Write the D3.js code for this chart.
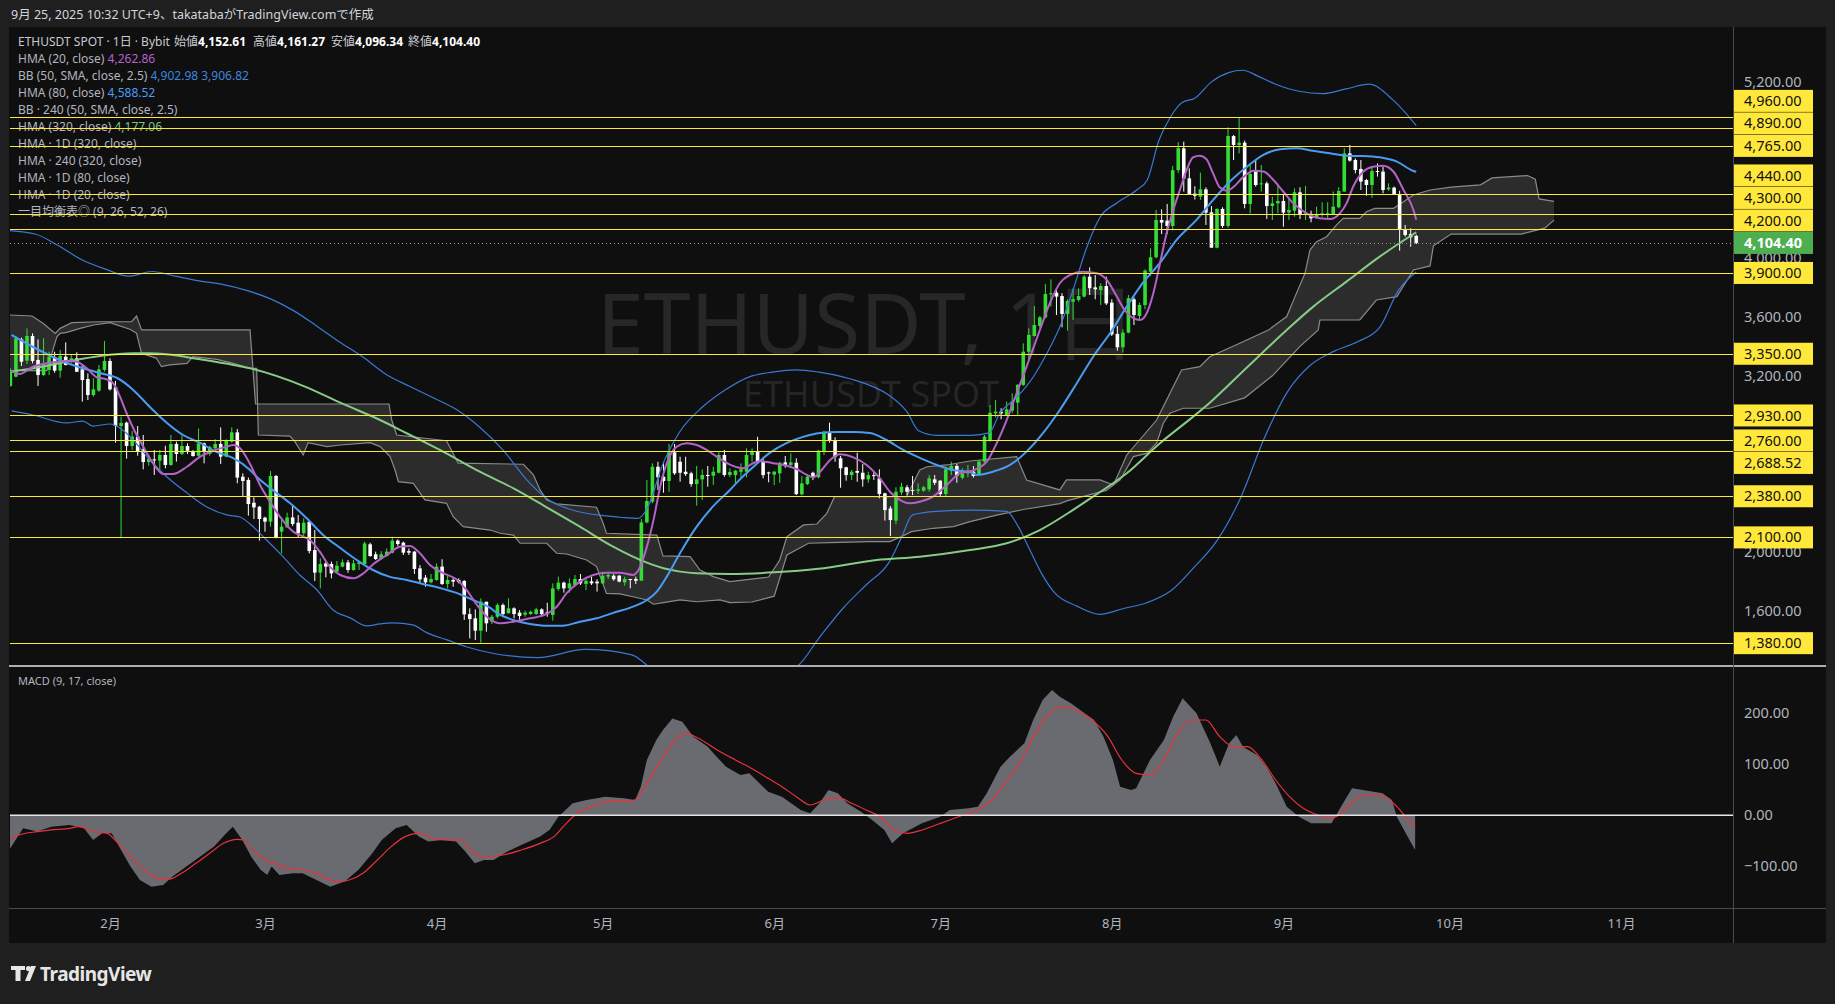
<!DOCTYPE html>
<html><head><meta charset="utf-8">
<script src="https://cdn.jsdelivr.net/npm/d3@7"></script>
<style>
body{margin:0;background:#1f1f1f;}
svg{display:block}
text{font-family:"Noto Sans","Noto Sans CJK JP",sans-serif;}
</style></head>
<body><svg id="c" width="1835" height="1004"></svg>
<script>
// ---------------- DATA ----------------
const startDay = -18; // first candle: 2025-01-14 (day index relative to 2025-02-01)
const opens = [3131,3194,3448,3303,3471,3308,3205,3240,3326,3235,3330,3296,3319,3244,3178,3069,3099,3240,3301,3122,2858,2881,2722,2786,2700,2613,2631,2622,2661,2593,2736,2668,2722,2684,2656,2740,2668,2706,2736,2650,2752,2815,2513,2491,2336,2309,2234,2207,2518,2139,2168,2236,2200,2128,2207,2014,1860,1923,1919,1867,1901,1930,1878,1919,1919,2053,1985,1953,1973,1996,2078,2064,2007,2003,1889,1826,1794,1810,1901,1783,1810,1810,1803,1578,1549,1465,1662,1526,1560,1640,1583,1617,1588,1574,1578,1578,1610,1590,1572,1749,1792,1753,1776,1817,1783,1801,1799,1787,1833,1839,1839,1794,1817,1817,1805,2202,2343,2581,2513,2484,2679,2615,2547,2536,2463,2495,2525,2520,2540,2661,2525,2524,2547,2547,2661,2683,2620,2542,2527,2536,2611,2593,2608,2393,2463,2540,2509,2683,2815,2763,2638,2577,2524,2552,2540,2495,2524,2502,2400,2297,2214,2406,2441,2423,2418,2418,2427,2495,2486,2395,2554,2586,2506,2536,2547,2525,2616,2763,2944,2956,2933,2963,3017,3138,3364,3471,3539,3598,3755,3766,3743,3621,3705,3716,3739,3875,3802,3784,3811,3698,3485,3394,3494,3721,3607,3682,3909,4007,4261,4256,4220,4600,4748,4544,4440,4419,4469,4313,4072,4336,4220,4832,4771,4787,4370,4601,4506,4510,4356,4374,4390,4311,4324,4449,4302,4302,4279,4299,4295,4295,4347,4454,4714,4669,4608,4533,4499,4594,4590,4469,4481,4438,4197,4165,4152.61];
const highs = [3251,3471,3460,3523,3489,3448,3455,3364,3364,3376,3428,3342,3360,3274,3217,3183,3274,3437,3319,3165,2922,2888,2824,2858,2797,2661,2695,2695,2724,2797,2752,2793,2740,2695,2842,2745,2724,2768,2849,2768,2849,2838,2536,2507,2373,2314,2241,2552,2525,2218,2268,2320,2252,2230,2207,2150,1957,1939,1935,1939,1951,1946,1946,1935,2071,2064,2003,2007,2025,2105,2087,2071,2025,2007,1912,1844,1851,1923,1951,1844,1828,1821,1810,1617,1610,1685,1662,1572,1651,1651,1685,1624,1606,1601,1601,1621,1617,1655,1787,1833,1799,1821,1844,1851,1828,1833,1815,1867,1867,1849,1844,1833,1817,1833,2225,2491,2604,2615,2615,2736,2736,2649,2649,2547,2586,2563,2586,2581,2679,2695,2570,2559,2604,2706,2706,2785,2645,2547,2552,2615,2654,2672,2638,2518,2524,2547,2695,2826,2881,2781,2654,2581,2559,2676,2599,2547,2547,2563,2404,2313,2441,2472,2456,2518,2468,2450,2524,2524,2490,2581,2615,2599,2570,2593,2586,2627,2797,3001,3035,2979,3024,3081,3144,3421,3523,3675,3607,3825,3857,3795,3762,3721,3795,3795,3886,3938,3886,3830,3875,3721,3539,3517,3750,3734,3698,3925,4068,4329,4333,4370,4630,4790,4794,4612,4490,4583,4483,4356,4340,4347,4891,4839,4960,4801,4635,4665,4635,4522,4419,4497,4431,4408,4476,4483,4492,4324,4351,4381,4381,4454,4483,4748,4771,4680,4669,4540,4624,4646,4624,4510,4488,4460,4227,4204,4161.27];
const lows = [3126,3190,3267,3280,3285,3131,3200,3205,3221,3187,3270,3285,3225,3024,3035,3058,3092,3228,3099,2745,2094,2636,2695,2656,2563,2588,2525,2559,2570,2588,2616,2661,2668,2650,2650,2604,2656,2700,2600,2645,2745,2468,2377,2248,2225,2078,2139,2173,2093,1991,2168,2177,2100,2109,1991,1803,1753,1828,1821,1862,1896,1860,1873,1878,1912,1969,1946,1951,1969,1991,2041,1980,1980,1851,1787,1764,1787,1805,1776,1753,1764,1787,1538,1413,1401,1383,1458,1510,1549,1560,1583,1549,1538,1560,1572,1572,1560,1560,1533,1737,1724,1724,1764,1776,1742,1776,1731,1783,1815,1805,1794,1771,1753,1783,1805,2196,2332,2423,2404,2411,2525,2479,2518,2445,2316,2354,2445,2457,2536,2513,2510,2468,2509,2509,2615,2604,2502,2475,2456,2472,2574,2580,2388,2386,2456,2490,2502,2661,2745,2615,2438,2486,2490,2479,2445,2472,2490,2366,2214,2109,2189,2388,2388,2388,2395,2411,2411,2456,2382,2377,2524,2472,2495,2509,2507,2518,2609,2752,2917,2904,2927,2945,2933,3131,3308,3467,3523,3591,3671,3614,3530,3507,3580,3705,3734,3750,3721,3682,3682,3471,3371,3358,3489,3546,3580,3653,3879,4000,4165,4165,4190,4580,4454,4431,4400,4397,4227,4072,4068,4208,4208,4669,4714,4340,4306,4488,4454,4267,4261,4306,4215,4261,4283,4267,4261,4245,4272,4283,4272,4295,4340,4454,4658,4578,4465,4426,4413,4556,4442,4460,4435,4052,4147,4079,4096.34];
const closes = [3228,3455,3296,3471,3301,3205,3274,3330,3235,3335,3274,3319,3228,3171,3069,3108,3244,3301,3108,2858,2879,2722,2786,2684,2613,2636,2625,2661,2593,2736,2668,2722,2690,2654,2740,2684,2715,2736,2650,2763,2815,2507,2484,2327,2304,2225,2207,2518,2100,2173,2236,2191,2128,2200,2007,1860,1919,1901,1855,1907,1930,1878,1923,1930,2059,1973,1953,1985,2003,2078,2055,1996,1996,1885,1814,1794,1817,1901,1783,1810,1799,1796,1576,1544,1465,1662,1515,1560,1640,1578,1617,1578,1565,1588,1594,1610,1578,1578,1753,1792,1753,1787,1817,1787,1805,1787,1787,1839,1844,1815,1799,1817,1810,1805,2202,2348,2581,2509,2484,2679,2536,2540,2531,2463,2495,2525,2518,2547,2661,2525,2545,2554,2563,2661,2683,2615,2524,2536,2547,2608,2593,2611,2395,2468,2513,2509,2690,2819,2763,2649,2570,2524,2547,2540,2495,2524,2518,2395,2286,2218,2411,2445,2411,2418,2427,2441,2502,2472,2395,2563,2586,2518,2536,2554,2518,2616,2786,2949,2956,2944,2972,3024,3138,3364,3478,3546,3598,3757,3762,3739,3621,3709,3721,3743,3875,3796,3789,3811,3693,3482,3394,3494,3728,3614,3682,3916,4007,4261,4243,4220,4600,4750,4544,4438,4425,4469,4311,4072,4336,4220,4832,4771,4787,4370,4574,4499,4510,4356,4374,4390,4311,4329,4449,4302,4306,4272,4302,4306,4306,4351,4458,4714,4665,4601,4522,4499,4594,4590,4465,4481,4435,4197,4159,4143,4104.40];

// indicator lines: [day (0 = 2025-02-01), price]
const hma20 = [[-17.8,3235],[-16.3,3212],[-13.9,3262],[-10.8,3289],[-7.8,3301],[-6,3296],[-4.2,3251],[-2.4,3190],[-0.6,3176],[0.6,3149],[1.8,3058],[3,2945],[4.2,2843],[6,2718],[7.8,2604],[9.6,2532],[11.4,2532],[13.9,2581],[16.3,2650],[18.7,2690],[21.1,2718],[22.3,2729],[23.5,2707],[25.3,2600],[27.1,2457],[28.9,2343],[30.7,2241],[33.1,2139],[34.9,2105],[36.1,2082],[37.9,2003],[39.7,1901],[41.6,1844],[44,1822],[45.8,1856],[47.6,1919],[50,1980],[52.4,2037],[54.2,2042],[56,1992],[57.8,1912],[60.2,1856],[62.6,1815],[64.4,1742],[66.3,1640],[68.4,1549],[70.5,1515],[72.9,1526],[75.9,1549],[78.9,1579],[80.7,1628],[82.5,1720],[84.9,1799],[87.3,1844],[89.7,1860],[92.1,1860],[94.5,1844],[95.8,1901],[97,2037],[98.2,2219],[99.4,2445],[100.6,2605],[102.4,2718],[104.2,2741],[106,2729],[107.8,2695],[109.6,2650],[112.3,2590],[114.4,2571],[116.2,2605],[117.4,2620],[119.8,2605],[122.3,2588],[124.1,2564],[125.9,2525],[127.1,2509],[128.3,2547],[130.1,2627],[131.9,2666],[134.3,2645],[136.7,2593],[139.1,2502],[140.9,2411],[142.7,2355],[144.5,2332],[146.3,2343],[148.7,2377],[151.2,2457],[153.6,2537],[155.7,2553],[158.4,2615],[160.2,2741],[162,2899],[163.8,3081],[165.6,3262],[168,3512],[169.8,3694],[171.6,3830],[173.4,3886],[175.8,3909],[178.3,3898],[180.1,3852],[181.9,3739],[183.1,3660],[184.9,3592],[186.1,3580],[187.3,3626],[188.5,3762],[189.7,3966],[190.9,4170],[192.1,4329],[193.3,4465],[194.5,4600],[195.7,4688],[196.9,4698],[198.1,4674],[199.3,4578],[200.5,4483],[201.8,4460],[202.9,4483],[204.7,4551],[206.6,4596],[208.4,4590],[210.2,4533],[212,4453],[213.8,4374],[216.2,4306],[218.6,4272],[220.4,4267],[222.2,4306],[223.4,4374],[224.6,4487],[226.4,4589],[228.2,4623],[230,4630],[231.9,4589],[233.7,4465],[235.5,4329],[236,4263]];
const hma80 = [[-17.8,3478],[-13.9,3396],[-7.8,3287],[-1.8,3219],[1.3,3185],[4.2,3104],[7.2,2988],[10.3,2879],[13.2,2797],[16.3,2743],[19.3,2681],[22.2,2641],[25.3,2559],[26.5,2513],[29.4,2423],[32.5,2334],[35.5,2232],[38.5,2117],[41.6,2028],[44.6,1946],[47.5,1878],[50.6,1831],[53.6,1810],[56.5,1783],[59.6,1756],[62.6,1722],[65.6,1674],[68.7,1620],[69.9,1586],[72.8,1538],[75.9,1511],[78.9,1499],[81.8,1499],[84.9,1526],[87.9,1549],[90.9,1586],[93.9,1620],[97,1674],[98.8,1731],[100.6,1833],[103,1994],[106,2173],[108.9,2309],[112,2423],[113.2,2471],[116.2,2579],[119.2,2675],[122.3,2743],[125.2,2784],[128.3,2811],[131.3,2818],[134.2,2818],[137.3,2811],[140.3,2763],[143.3,2695],[146.3,2641],[149.4,2593],[152.3,2559],[155.4,2545],[156.6,2525],[159.5,2547],[162.6,2593],[165.6,2684],[168.6,2811],[171.6,2967],[174.7,3151],[177.6,3328],[180.7,3491],[183.7,3671],[186.6,3832],[189.7,3968],[192.7,4125],[196.3,4261],[199.3,4397],[202.3,4521],[205.4,4623],[208.3,4703],[211.4,4742],[214.4,4749],[217.3,4732],[220.4,4715],[223.4,4698],[226.3,4696],[229.4,4687],[232.5,4658],[235.4,4596],[236,4589]];
const hma320 = [[-17.8,3228],[-13.9,3251],[-7.8,3296],[-1.8,3335],[4.2,3353],[7.2,3353],[10.2,3346],[16.3,3312],[22.3,3274],[25.3,3251],[35,3130],[42,3010],[48.8,2899],[53.6,2809],[59.6,2695],[66.8,2547],[72.9,2434],[78.9,2305],[84.9,2173],[90.9,2037],[97,1928],[100,1890],[103,1867],[106,1856],[112,1851],[120,1862],[128,1886],[138.5,1946],[146.3,1969],[155.4,2014],[162,2060],[168,2150],[174,2287],[177.6,2377],[183.7,2536],[189.7,2741],[195.7,2922],[198.7,3017],[205.5,3260],[212.6,3512],[217.4,3671],[223.4,3841],[229.4,4011],[236,4177]];
const bbUpper = [[-18.2,4189],[-13.5,4165],[-9.3,4085],[-5.1,3990],[-0.8,3926],[3.4,3878],[7.6,3910],[11.8,3878],[16.1,3846],[20.3,3822],[24.5,3783],[28.8,3727],[33,3647],[37.2,3543],[41.4,3432],[45.7,3328],[49.9,3209],[54.1,3129],[58.4,3050],[62.6,2970],[66.8,2850],[71.1,2691],[75.3,2492],[79.5,2349],[83.7,2285],[88,2253],[92.2,2237],[95.4,2229],[97.5,2333],[99.6,2572],[102.8,2811],[107,2986],[111.2,3105],[115.5,3193],[119.7,3225],[123.9,3241],[128.1,3225],[132.4,3193],[136.6,3145],[140.8,3066],[144,2954],[146.1,2826],[149.3,2795],[155.6,2795],[158.8,2811],[160.8,2947],[163.9,3056],[166.8,3192],[169.3,3355],[171.6,3532],[174,3784],[176.5,4077],[178.9,4281],[181.9,4376],[185.5,4465],[187.4,4533],[189.5,4802],[191.6,4962],[193.7,5060],[196,5090],[199,5201],[202.1,5264],[204.7,5280],[207.4,5240],[210.6,5185],[214.8,5137],[219.1,5121],[223.3,5153],[227.5,5185],[231.8,5078],[236,4903]];
const bbLower = [[-17.8,2961],[-13.9,2933],[-7.8,2879],[-4.9,2892],[-3.1,2858],[0,2872],[1.8,2845],[4.2,2763],[7.2,2627],[10.3,2511],[13.9,2403],[17.5,2307],[21.1,2253],[23.5,2239],[25.3,2191],[28.3,2082],[31.3,1967],[34.3,1844],[37.4,1742],[40.3,1606],[43.4,1552],[46.4,1497],[48.8,1511],[51.1,1518],[54.7,1504],[57.3,1450],[60.9,1402],[64.5,1354],[68.9,1313],[77.3,1281],[85.8,1337],[94.3,1300],[97.5,1218],[104,1150],[118,1150],[124,1218],[128.1,1415],[132.4,1616],[136.6,1776],[140.8,1933],[143,2100],[145,2253],[149.3,2277],[155.6,2285],[162,2277],[164.1,2173],[166.2,2014],[168.3,1855],[170.4,1735],[174.7,1632],[178.9,1576],[183.1,1616],[187.3,1655],[191.6,1735],[195.8,1894],[200,2078],[204.3,2372],[208.5,2771],[212.7,3089],[216.9,3273],[221.2,3368],[225.4,3432],[229.4,3530],[232.8,3783],[236,3907]];
const cloudUpper = [[-18.1,3614],[-14.1,3607],[-12.1,3558],[-9.9,3489],[-9,3523],[-6.9,3562],[-1.8,3568],[3.9,3568],[4.8,3607],[5.7,3512],[25.3,3512],[26.3,3008],[50.4,3008],[50.9,2899],[51.8,2797],[60.8,2758],[62.9,2605],[74.7,2598],[76.5,2525],[77.7,2423],[78.9,2355],[80.7,2328],[87.9,2305],[89.1,2196],[89.7,2128],[98.8,2116],[99.9,1974],[104.8,1969],[106.6,1878],[109,1833],[112,1799],[119,1830],[121,1946],[122.3,2105],[125.3,2185],[127.7,2191],[129.5,2264],[130.9,2377],[143.9,2377],[146.3,2559],[147.6,2581],[151.2,2593],[155.4,2620],[163.8,2650],[165.6,2491],[171.6,2423],[172.8,2491],[178.9,2491],[181.3,2457],[183.7,2661],[189.1,2899],[191.5,3081],[193.6,3240],[196.9,3262],[198.7,3330],[204,3420],[209.3,3512],[212.6,3603],[214.1,3739],[215.9,3898],[216.8,4056],[218,4113],[219.8,4147],[221.6,4227],[222.8,4272],[225.8,4272],[227,4317],[228.5,4340],[231.9,4340],[235.5,4431],[238.5,4465],[242.3,4484],[247.6,4500],[249.7,4547],[256.1,4563],[257.5,4539],[258.2,4404],[260.9,4388]];
const cloudLower = [[-18.1,3235],[-11.4,3235],[-10.5,3353],[-9.6,3466],[-9,3489],[-7.8,3496],[-5.4,3523],[-3,3546],[0,3562],[3.6,3517],[4.8,3489],[5.7,3353],[8.4,3319],[9.3,3262],[10.8,3274],[13.9,3285],[15,3330],[19.3,3312],[22.3,3285],[25.3,3251],[26.5,3251],[26.8,2797],[32.5,2790],[33.4,2752],[34.9,2661],[35.8,2745],[39.2,2718],[41.6,2729],[47,2745],[48.8,2718],[50.6,2650],[51.5,2559],[52.1,2479],[54.8,2468],[56.9,2355],[60.8,2332],[62,2241],[63.8,2173],[68.7,2150],[70.5,2128],[72.9,2116],[74.1,2060],[78.9,2060],[80.7,1992],[82.5,1987],[86.1,1946],[87.9,1901],[89.7,1719],[92.1,1715],[94.5,1696],[97,1674],[98.2,1645],[100,1656],[103,1674],[106,1662],[110.2,1674],[112,1656],[116,1660],[120,1700],[122.3,1980],[126.2,2060],[130.1,2064],[137.3,2071],[140.9,2071],[143,2105],[144.8,2139],[148.7,2162],[152.4,2173],[155.4,2207],[160,2250],[165,2290],[171.6,2330],[173,2350],[180,2420],[182.5,2491],[184.9,2650],[187.3,2672],[189.1,2741],[190.3,2877],[191.5,2945],[193.9,2979],[198.7,2979],[205,3050],[210,3200],[215,3400],[218.3,3512],[218.6,3580],[225.8,3580],[228.8,3716],[232.5,3739],[235.5,3920],[238.5,3948],[239.1,4085],[242.3,4165],[255,4165],[259.2,4205],[260.9,4260]];
// MACD (9,17): outline of the histogram area and the red signal line, [day, value]
const macdLine = [[-18.2,-68],[-15.7,-25.5],[-13.1,-32],[-10.6,-22.3],[-7.3,-19],[-4.7,-25.5],[-3.05,-48.4],[-1.4,-35.3],[0.3,-35.3],[2,-68],[3.7,-100.6],[5.4,-126.8],[7.5,-139.9],[9.6,-136.6],[11.3,-120.2],[13.8,-100.6],[16.3,-81],[18.8,-61.4],[21,-35.3],[22.2,-22.3],[23.9,-48.4],[25.5,-81],[27.2,-107],[28.4,-117],[29.2,-100.6],[30.6,-117],[33.1,-113.7],[34.8,-113.7],[37.3,-126.8],[39.8,-139.9],[42.4,-130],[44.9,-107],[47.4,-74.5],[49.1,-48.4],[51.6,-25.5],[53.6,-19],[55.8,-41.8],[57.5,-51.6],[60,-48.4],[62.5,-51.6],[64.2,-71.2],[65.9,-94],[67.6,-87.5],[69.3,-87.5],[71.8,-71.2],[74.3,-58.2],[77.7,-41.8],[79.4,-28.8],[81,-2.7],[83.6,23.4],[86.1,30],[89.5,36.5],[92.8,33.2],[94.9,30],[95.9,56],[97,108.5],[98.7,147.6],[99.9,167],[101.6,190],[103.4,183.5],[105.4,154],[108,134.6],[109.3,118],[111.3,95.4],[113.9,79],[115.5,82.3],[118.9,46.3],[121.4,36.5],[124.8,10.4],[126.5,3.8],[128.2,23.4],[129.8,49.5],[131.5,43],[133.2,23.4],[135.7,7],[137.7,-9.2],[139.9,-28.8],[141.3,-54.9],[143.3,-35.3],[146.7,-15.7],[150,-2.7],[151.7,10.4],[155.1,13.6],[156.8,16.9],[158.4,43],[160.9,95.4],[162.6,115],[165.2,141],[166.8,186.8],[168.5,226],[170.2,245.7],[171.6,232.6],[173.6,219.5],[176.1,200],[177.8,186.8],[179.5,154],[181.2,108.5],[182.5,56],[184.5,49.5],[185.4,52.8],[187.9,108.5],[190.4,147.6],[192.1,193.5],[193.8,229.3],[196.3,200],[198.8,141],[200.5,95.4],[202.2,141],[203.5,157.4],[204.7,134.6],[207.2,118],[208.9,95.4],[210.6,62.7],[212.6,16.9],[214.8,-2.7],[217,-15.7],[220.7,-15.7],[222.4,16.9],[224.4,52.8],[228.3,46.3],[229.9,43],[231.6,30],[232.5,-2.7],[234.1,-35.3],[235.8,-68]];
const signalLine = [[-18.2,-48.4],[-16.5,-38.6],[-13.1,-32.1],[-10.6,-28.8],[-7.3,-25.6],[-5.6,-22.3],[-3,-32.1],[-0.5,-35.4],[1.2,-51.7],[3.7,-81.1],[6.2,-107.3],[8.7,-123.6],[10.4,-125.6],[12.9,-113.8],[15.5,-94.2],[18,-74.6],[20.5,-55],[23,-47.1],[24.2,-48.4],[25.5,-64.8],[27.6,-84.4],[29.8,-94.2],[32.3,-104],[34.8,-107.3],[36.5,-110.5],[39,-123.6],[41.5,-130.1],[43.2,-126.9],[45.7,-113.8],[48.3,-87.7],[50.8,-61.5],[53.3,-41.9],[55.8,-35.4],[58.4,-45.2],[60.9,-48.4],[63.4,-48.4],[65.1,-68.1],[67.6,-81.1],[71,-77.9],[74.3,-68.1],[77.7,-55],[80.2,-41.9],[81.9,-22.3],[84.4,3.8],[87.8,20.2],[91.2,28.7],[94.5,28.7],[97,62.7],[99.6,108.4],[102.1,147.6],[104.1,160.7],[106.3,150.9],[109.7,128],[113,108.4],[116.4,88.8],[118.9,72.5],[121.4,56.1],[124,36.5],[126.5,20.2],[129,30],[131.5,35.2],[134,23.5],[136.6,10.4],[139.1,-2.7],[141.6,-28.8],[144.1,-35.4],[146.7,-28.8],[149.2,-19],[151.7,-9.2],[154.2,0.6],[156.8,10.4],[159.3,30],[161.8,62.7],[164.3,101.9],[166.9,154.2],[169.4,196.7],[171.9,213],[174.4,206.5],[177,190.1],[180.3,154.2],[182.8,108.4],[185.4,82.3],[187.9,79],[190.4,108.4],[192.9,160.7],[195.5,186.8],[198,186.8],[200.5,154.2],[203,134.6],[205.5,134.6],[208.1,108.4],[210.6,69.2],[213.1,36.5],[215.6,13.6],[218.2,0.6],[220.7,-5.9],[222.4,3.8],[224.9,30],[227.4,39.8],[229.9,37.8],[232.5,17],[234.1,-2.7],[235.8,-22.3]];
// horizontal levels (yellow) and the last price
const levels = [4960,4890,4765,4440,4300,4200,3900,3350,2930,2760,2688.52,2380,2100,1380];
const lastPrice = 4104.40;
// price-axis tick labels that are visible (the others sit under the level labels)
const priceTicks = [1600,2000,3200,3600,4000,5200];
const macdTicks = [-100,0,100,200];
const ohlcLegend = [["始値","4,152.61"],["高値","4,161.27"],["安値","4,096.34"],["終値","4,104.40"]];

// ---------------- LAYOUT ----------------
const svg = d3.select("#c");
const PL=10, PR=1733, PT=28, PB=665, MT=666, MB=908, FR=1826;
const base = Date.UTC(2025,1,1);
const toDate = d => new Date(base + d*864e5);
const x = d3.scaleUtc().domain([toDate(-18.067), toDate(293.23)]).range([PL, PR]);
const y = d3.scaleLinear().domain([1231.3, 5567.6]).range([PB, PT]);
const ym = d3.scaleLinear().domain([-181.8, 292.7]).range([MB, MT]);
const fmt = d3.format(",.2f");

// backgrounds
svg.append("rect").attr("width",1835).attr("height",1004).attr("fill","#1f1f1f");
svg.append("rect").attr("x",9).attr("y",27).attr("width",FR-9).attr("height",943-27).attr("fill","#0f0f0f");

// header
svg.append("text").attr("x",11).attr("y",19).attr("fill","#d1d4dc").attr("font-size",12.5)
  .text("9月 25, 2025 10:32 UTC+9、takatabaがTradingView.comで作成");

const defs = svg.append("defs");
defs.append("clipPath").attr("id","cp").append("rect").attr("x",PL).attr("y",PT).attr("width",PR-PL).attr("height",PB-PT);
defs.append("clipPath").attr("id","cm").append("rect").attr("x",PL).attr("y",MT).attr("width",PR-PL).attr("height",MB-MT);

const pane = svg.append("g").attr("clip-path","url(#cp)");

// watermark
pane.append("text").attr("x",867).attr("y",354).attr("text-anchor","middle").attr("font-size",84)
  .attr("font-family","Roboto, 'Noto Sans CJK JP', sans-serif").attr("fill","#ffffff").attr("fill-opacity",0.1).text("ETHUSDT, 1日");
pane.append("text").attr("x",871).attr("y",407).attr("text-anchor","middle").attr("font-size",36)
  .attr("font-family","Roboto, sans-serif").attr("fill","#ffffff").attr("fill-opacity",0.1).text("ETHUSDT SPOT");

// ichimoku cloud
const px = d => x(toDate(d[0]));
const poly = cloudUpper.map(d=>[px(d), y(d[1])]).concat(cloudLower.slice().reverse().map(d=>[px(d), y(d[1])]));
pane.append("path").attr("d", "M"+poly.map(p=>p.join(",")).join("L")+"Z").attr("fill","#ffffff").attr("fill-opacity",0.12);
const lin = d3.line().x(px).y(d=>y(d[1]));
pane.append("path").attr("d", lin(cloudUpper)).attr("fill","none").attr("stroke","#8a8a8a").attr("stroke-width",1.2);
pane.append("path").attr("d", lin(cloudLower)).attr("fill","none").attr("stroke","#8a8a8a").attr("stroke-width",1.2);

// candles
const cand = pane.append("g");
const bw = 3.6;
opens.forEach((o,i)=>{
  const d = startDay + i, cx = x(toDate(d));
  const up = closes[i] >= o;
  const col = up ? "#35dc35" : "#ffffff";
  cand.append("line").attr("x1",cx).attr("x2",cx).attr("y1",y(highs[i])).attr("y2",y(lows[i])).attr("stroke",col).attr("stroke-width",1);
  const top = y(Math.max(o,closes[i])), bot = y(Math.min(o,closes[i]));
  cand.append("rect").attr("x",cx-bw/2).attr("y",top).attr("width",bw).attr("height",Math.max(1,bot-top)).attr("fill",col);
});

// indicator lines
const smooth = d3.line().x(px).y(d=>y(d[1])).curve(d3.curveMonotoneX);
pane.append("path").attr("d",smooth(bbUpper)).attr("fill","none").attr("stroke","#3a78d4").attr("stroke-width",1.2);
pane.append("path").attr("d",smooth(bbLower)).attr("fill","none").attr("stroke","#3a78d4").attr("stroke-width",1.2);
pane.append("path").attr("d",smooth(hma320)).attr("fill","none").attr("stroke","#86cc86").attr("stroke-width",2);
pane.append("path").attr("d",smooth(hma80)).attr("fill","none").attr("stroke","#4a9cf2").attr("stroke-width",2);
pane.append("path").attr("d",smooth(hma20)).attr("fill","none").attr("stroke","#b462c8").attr("stroke-width",2);

// legend
const leg = svg.append("g").attr("font-size",12);
leg.append("text").attr("x",18).attr("y",46).attr("fill","#c8cad0").attr("font-size",12).text("ETHUSDT SPOT · 1日 · Bybit");
const ohlcX = [174,253,331,408];
ohlcLegend.forEach((p,i)=>{
  const t = leg.append("text").attr("x",ohlcX[i]).attr("y",46).attr("fill","#c8cad0").attr("font-size",12);
  t.append("tspan").text(p[0]);
  t.append("tspan").attr("fill","#ffffff").attr("font-weight","bold").text(p[1]);
});
const rows = [
  ["HMA (20, close)",["4,262.86"],"#b462c8"],
  ["BB (50, SMA, close, 2.5)",["4,902.98","3,906.82"],"#3d86de"],
  ["HMA (80, close)",["4,588.52"],"#4a9cf2"],
  ["BB · 240 (50, SMA, close, 2.5)",[],""],
  ["HMA (320, close)",["4,177.06"],"#7cc47c"],
  ["HMA · 1D (320, close)",[],""],
  ["HMA · 240 (320, close)",[],""],
  ["HMA · 1D (80, close)",[],""],
  ["HMA · 1D (20, close)",[],""],
  ["一目均衡表◎ (9, 26, 52, 26)",[],""]
];
rows.forEach((r,i)=>{
  const t = leg.append("text").attr("x",18).attr("y",63+i*17).attr("fill","#b2b5be");
  t.append("tspan").text(r[0]);
  r[1].forEach(v=>t.append("tspan").attr("fill",r[2]).text("  "+v));
});

// yellow level lines + last price dotted line
const lv = svg.append("g");
levels.forEach(v=>lv.append("line").attr("x1",PL).attr("x2",PR).attr("y1",Math.round(y(v))+0.5).attr("y2",Math.round(y(v))+0.5).attr("stroke","#ffe83a").attr("stroke-width",1));
lv.append("line").attr("x1",PL).attr("x2",PR).attr("y1",Math.round(y(lastPrice))+0.5).attr("y2",Math.round(y(lastPrice))+0.5)
  .attr("stroke","#9a9a9a").attr("stroke-dasharray","1,3");

// MACD pane
const mp = svg.append("g").attr("clip-path","url(#cm)");
const marea = d3.area().x(px).y0(ym(0)).y1(d=>ym(d[1]));
mp.append("path").attr("d",marea(macdLine)).attr("fill","#6a6b70");
mp.append("path").attr("d",d3.line().x(px).y(d=>ym(d[1])).curve(d3.curveMonotoneX)(signalLine)).attr("fill","none").attr("stroke","#e8323c").attr("stroke-width",1.2);
svg.append("line").attr("x1",PL).attr("x2",PR).attr("y1",ym(0)).attr("y2",ym(0)).attr("stroke","#e6e6e6").attr("stroke-width",1.5);
svg.append("text").attr("x",18).attr("y",685).attr("fill","#b2b5be").attr("font-size",11).text("MACD (9, 17, close)");

// separators
svg.append("line").attr("x1",9).attr("x2",FR).attr("y1",666).attr("y2",666).attr("stroke","#e6e6e6").attr("stroke-width",1.5);
svg.append("line").attr("x1",9).attr("x2",FR).attr("y1",908.5).attr("y2",908.5).attr("stroke","#4a4a4a");
svg.append("line").attr("x1",PR+0.5).attr("x2",PR+0.5).attr("y1",27).attr("y2",943).attr("stroke","#4a4a4a");

// price axis
const ax = svg.append("g").attr("transform",`translate(${PR},0)`)
  .call(d3.axisRight(y).tickValues(priceTicks).tickSize(0).tickPadding(11).tickFormat(fmt));
ax.select(".domain").remove();
ax.selectAll("text").attr("fill","#b2b5be").attr("font-size",14.5).attr("font-family","'Noto Sans',sans-serif");

const am = svg.append("g").attr("transform",`translate(${PR},0)`)
  .call(d3.axisRight(ym).tickValues(macdTicks).tickSize(0).tickPadding(11).tickFormat(d=>d3.format(".2f")(d).replace("-","−")));
am.select(".domain").remove();
am.selectAll("text").attr("fill","#b2b5be").attr("font-size",14.5).attr("font-family","'Noto Sans',sans-serif");

// level labels with collision handling (above last price pushed up, below pushed down)
const LH = 22.5;
const lab = svg.append("g").attr("font-size",14.5).attr("font-family","'Noto Sans',sans-serif");
function drawLabel(v, cy, bg, fg, bold){
  lab.append("rect").attr("x",PR+1).attr("y",cy-11).attr("width",79).attr("height",22).attr("fill",bg);
  lab.append("text").attr("x",PR+11).attr("y",cy).attr("dy","0.35em").attr("fill",fg).attr("font-weight",bold?"bold":"normal").text(fmt(v));
}
let prev = y(lastPrice);
levels.filter(v=>v>lastPrice).sort((a,b)=>a-b).forEach(v=>{ const cy=Math.min(y(v), prev-LH); drawLabel(v,cy,"#ffe83a","#111"); prev=cy; });
prev = y(lastPrice);
levels.filter(v=>v<lastPrice).sort((a,b)=>b-a).forEach(v=>{ const cy=Math.max(y(v), prev+LH); drawLabel(v,cy,"#ffe83a","#111"); prev=cy; });
drawLabel(lastPrice, y(lastPrice), "#4caf50", "#ffffff", true);

// time axis
const at = svg.append("g").attr("transform",`translate(0,${MB})`)
  .call(d3.axisBottom(x).ticks(d3.utcMonth.every(1)).tickSize(0).tickPadding(11).tickFormat(d=>(d.getUTCMonth()+1)+"月"));
at.select(".domain").remove();
at.selectAll("text").attr("fill","#b2b5be").attr("font-size",13).attr("font-family","'Noto Sans CJK JP',sans-serif");

// footer logo
const lg = svg.append("g").attr("fill","#e6e6e6");
lg.append("path").attr("d","M11,966 h14 v4 h-4.5 v11 h-5 v-11 h-4.5 Z");
lg.append("circle").attr("cx",28.5).attr("cy",968.5).attr("r",2.6);
lg.append("path").attr("d","M31,966 h5 l-6,15 h-5 Z");
lg.append("text").attr("x",40).attr("y",981).attr("font-size",19).attr("font-weight","bold").attr("font-family","Inter, 'Noto Sans', sans-serif").attr("letter-spacing","-0.5").text("TradingView");
</script></body></html>
